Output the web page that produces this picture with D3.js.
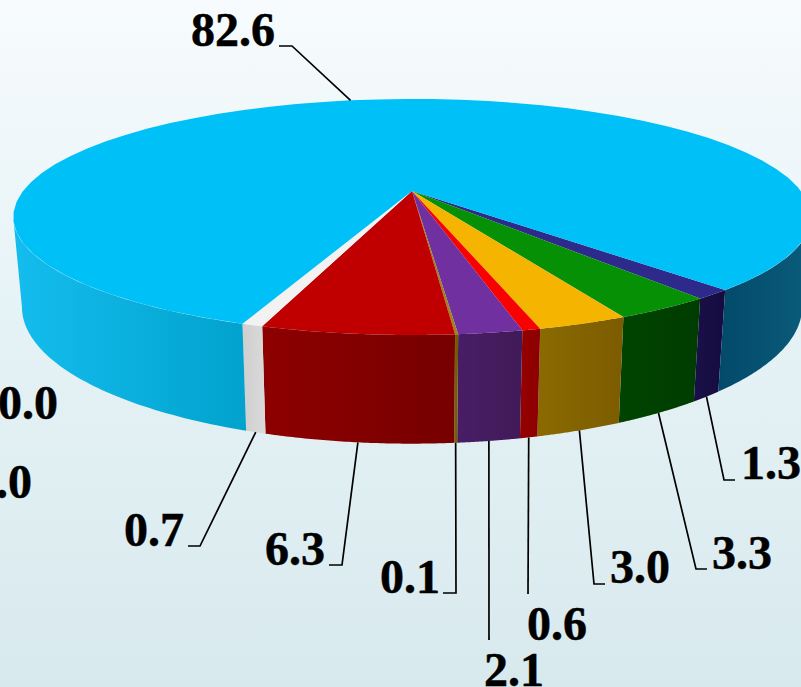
<!DOCTYPE html>
<html>
<head>
  <meta charset="UTF-8">
  <style>
    html, body { margin: 0; padding: 0; overflow: hidden; }
    svg { display: block; }
    .label { font-family: "Liberation Serif", serif; font-weight: bold; font-size: 48px; fill: #000; stroke: #000; stroke-width: 0.5; }
    .leader { fill: none; stroke: #000; stroke-width: 1.7; }
  </style>
</head>
<body>
<svg></svg>
<script src="https://d3js.org/d3.v7.min.js"></script>
<script>
// slices, clockwise from the navy one
const values = [1.3, 3.3, 3.0, 0.6, 2.1, 0.1, 6.3, 0.7, 0.0, 0.0, 82.6];
const valueLabels = ["1.3", "3.3", "3.0", "0.6", "2.1", "0.1", "6.3", "0.7", "0.0", "0.0", "82.6"];

const topColors = ["#2e2a8c", "#059005", "#f5b400", "#fb0000", "#7030a0", "#a08020", "#c00000", "#f2f2f2", "#ccc", "#ccc", "#00c0f8"];
const wallFrom = ["#1a1048", "#004400", "#8a6a00", "#960000", "#481d66", "#7a6400", "#8e0000", "#cfcfcf", "#ccc", "#ccc", "#14bdee"];
const wallTo = ["#140c40", "#003c00", "#7c5c00", "#8c0000", "#411a58", "#6e5800", "#760000", "#dadada", "#ccc", "#ccc", "#01a2cd"];

// label text position [x, baseline] and leader bend, in the same order as values
const labelSpots = [[741, 479], [712, 569], [610, 583], [527, 640], [484, 686], [380, 593], [265, 565], [124, 546], [-2, 419], [-28, 498], [191, 46]];
const leaderBends = [
  [[724, 480], [735, 480]], [[696, 569], [707, 569]], [[594, 584], [605, 584]],
  [[528, 594]], [[489, 640]], [[456, 593], [443, 593]],
  [[342, 565], [329, 565]], [[200, 546], [188, 546]], null, null,
  [[292, 46], [279, 46]]
];

const width = 801, height = 687;
const cx = 412, apexY = 191;
const persp = 0.22;
const rad = d => d * Math.PI / 180;

const svg = d3.select("svg").attr("width", width).attr("height", height);
const defs = svg.append("defs");

const bg = defs.append("linearGradient").attr("id", "bg").attr("x1", 0).attr("y1", 0).attr("x2", 0).attr("y2", 1);
bg.append("stop").attr("offset", 0).attr("stop-color", "#f7fbfd");
bg.append("stop").attr("offset", 0.45).attr("stop-color", "#e6f3f6");
bg.append("stop").attr("offset", 1).attr("stop-color", "#d8e9ed");
svg.append("rect").attr("width", width).attr("height", height).attr("fill", "url(#bg)");

// circle to screen, with a bit of perspective
function topRim(t) {
  const s = Math.sin(t), c = Math.cos(t), w = 1 - persp * s;
  return [cx + 389 * c / w, apexY + 112.3 * s / w];
}
function bottomRim(t) {
  const s = Math.sin(t), c = Math.cos(t), w = 1 - persp * s;
  return [cx + 380.5 * c / w, 277 + 130 * s / w];
}

const startDeg = 47.6;
const arcs = d3.pie().sort(null).value(d => d)
  .startAngle(rad(startDeg)).endAngle(rad(startDeg + 360))(values);

const line = d3.line();
const steps = (a, b) => d3.range(0, 61).map(i => a + (b - a) * i / 60);

function addWall(a, b, from, to, id) {
  const top = steps(a, b).map(topRim);
  const bottom = steps(a, b).map(bottomRim).reverse();
  const xs = top.concat(bottom).map(p => p[0]);
  const g = defs.append("linearGradient").attr("id", id).attr("gradientUnits", "userSpaceOnUse")
    .attr("x1", d3.min(xs)).attr("x2", d3.max(xs)).attr("y1", 0).attr("y2", 0);
  g.append("stop").attr("offset", 0).attr("stop-color", from);
  g.append("stop").attr("offset", 1).attr("stop-color", to);
  svg.append("path").attr("d", line(top.concat(bottom)) + "Z").attr("fill", `url(#${id})`);
}

// side walls first, the top goes over them
const blue = arcs.length - 1;
const edge = Math.asin(persp); // where the rim is widest
arcs.forEach((d, i) => {
  if (d.value === 0 || i === blue) return;
  addWall(d.startAngle, d.endAngle, wallFrom[i], wallTo[i], "wall" + i);
});
addWall(arcs[blue].startAngle, Math.PI - edge, wallFrom[blue], wallTo[blue], "wallLeft");
addWall(2 * Math.PI + edge, arcs[blue].endAngle, "#03496a", "#0a5c7c", "wallRight");

svg.append("g").selectAll("path")
  .data(arcs.filter(d => d.value > 0))
  .join("path")
  .attr("d", d => line([[cx, apexY]].concat(steps(d.startAngle, d.endAngle).map(topRim))) + "Z")
  .attr("fill", d => topColors[d.index]);

// leaders start at the middle of each slice's rim
arcs.forEach((d, i) => {
  if (!leaderBends[i]) return;
  const mid = (d.startAngle + d.endAngle) / 2;
  const anchor = i === blue ? topRim(mid) : bottomRim(mid);
  svg.append("path").attr("class", "leader").attr("d", line([anchor].concat(leaderBends[i])));
});

svg.append("g").selectAll("text")
  .data(valueLabels)
  .join("text")
  .attr("class", "label")
  .attr("x", (d, i) => labelSpots[i][0])
  .attr("y", (d, i) => labelSpots[i][1])
  .text(d => d);
</script>
</body>
</html>
